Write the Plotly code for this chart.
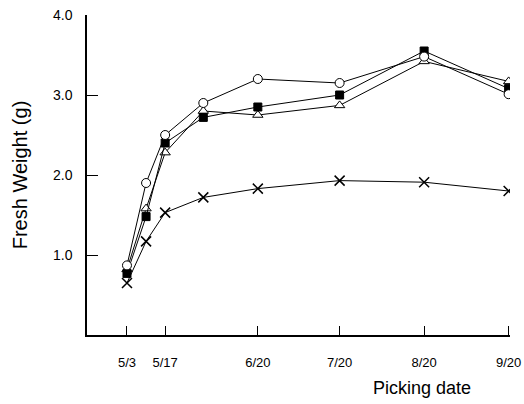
import plotly.graph_objects as go

dates = ["2000-05-03", "2000-05-10", "2000-05-17", "2000-05-31",
         "2000-06-20", "2000-07-20", "2000-08-20", "2000-09-20"]
circle_vals = [0.87, 1.90, 2.50, 2.90, 3.20, 3.15, 3.48, 3.01]
square_vals = [0.77, 1.48, 2.40, 2.72, 2.85, 3.00, 3.55, 3.08]
triangle_vals = [0.82, 1.58, 2.28, 2.80, 2.75, 2.87, 3.42, 3.17]
cross_vals = [0.65, 1.17, 1.53, 1.72, 1.83, 1.93, 1.91, 1.80]

x_tickvals = ["2000-05-03", "2000-05-17", "2000-06-20", "2000-07-20", "2000-08-20", "2000-09-20"]
x_ticktext = ["5/3", "5/17", "6/20", "7/20", "8/20", "9/20"]
y_tickvals = [1.0, 2.0, 3.0, 4.0]
y_ticktext = ["1.0", "2.0", "3.0", "4.0"]

FONT = "Liberation Sans, Arial, sans-serif"

fig = go.Figure()
line = dict(color="black", width=1)
fig.add_trace(go.Scatter(x=dates, y=cross_vals, mode="lines+markers", line=line,
                         marker=dict(symbol="x-thin", size=10, line=dict(color="black", width=1.5))))
fig.add_trace(go.Scatter(x=dates, y=triangle_vals, mode="lines+markers", line=line,
                         marker=dict(symbol="triangle-up", size=9, color="white", line=dict(color="black", width=1))))
fig.add_trace(go.Scatter(x=dates, y=square_vals, mode="lines+markers", line=line,
                         marker=dict(symbol="square", size=8, color="black", line=dict(color="black", width=1))))
fig.add_trace(go.Scatter(x=dates, y=circle_vals, mode="lines+markers", line=line,
                         marker=dict(symbol="circle", size=9, color="white", line=dict(color="black", width=1))))

fig.update_layout(
    width=524, height=404,
    margin=dict(l=87, r=14, t=15, b=69, autoexpand=False),
    paper_bgcolor="white", plot_bgcolor="white",
    showlegend=False,
    font=dict(family=FONT, color="black", size=13),
    xaxis=dict(
        type="date", automargin=False,
        range=["2000-04-18 08:00", "2000-09-20 12:00"],
        tickvals=x_tickvals, ticktext=x_ticktext,
        ticks="inside", ticklen=9, tickcolor="black", tickwidth=1,
        showline=True, linecolor="black", linewidth=1.5,
        showgrid=False, zeroline=False,
        ticklabelstandoff=15, ticklabeloverflow="allow",
        tickfont=dict(size=13),
    ),
    yaxis=dict(
        automargin=False,
        range=[0, 4.0],
        tickvals=y_tickvals, ticktext=y_ticktext,
        ticks="inside", ticklen=11, tickcolor="black", tickwidth=1,
        showline=True, linecolor="black", linewidth=1.5,
        showgrid=False, zeroline=False,
        ticklabelstandoff=10, ticklabeloverflow="allow",
        tickfont=dict(size=14),
        title=dict(text="Fresh Weight (g)", font=dict(size=20), standoff=20),
    ),
    annotations=[dict(text="Picking date", xref="paper", yref="paper",
                      x=0.672, y=-0.128, xanchor="left", yanchor="top",
                      showarrow=False, font=dict(size=18))],
)

fig.write_html("out.html",
               config={"displayModeBar": False},
               post_script="document.body.style.margin='0';document.body.style.overflow='hidden';")
